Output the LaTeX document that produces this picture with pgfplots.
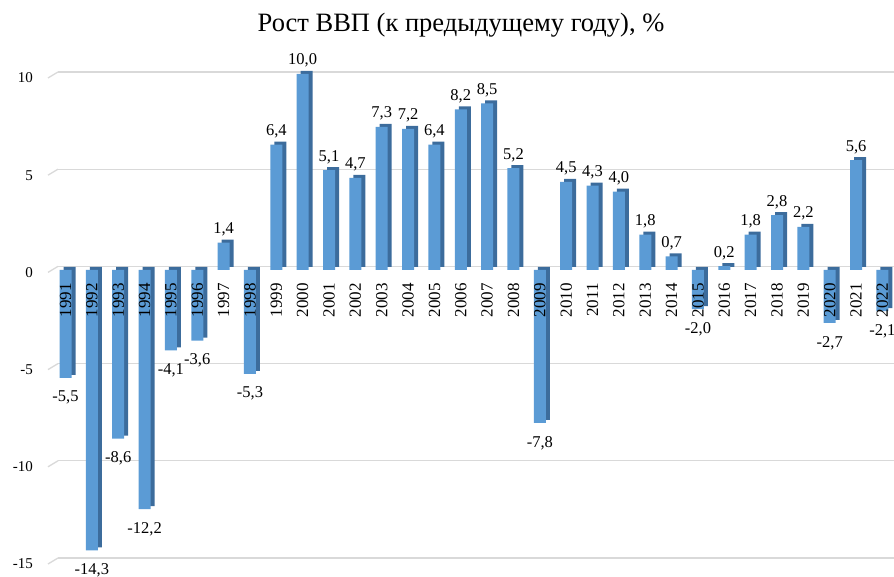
\documentclass[border=0pt]{standalone}
\usepackage{pgfplots}
\usepackage{pgfplotstable}
\pgfplotsset{compat=1.18}
\usepackage{fontspec}
\setmainfont{Liberation Serif}
\definecolor{barfront}{HTML}{5B9BD5}
\definecolor{barside}{HTML}{3C6C9C}
\definecolor{gridc}{HTML}{D9D9D9}

\pgfplotstableread{
x y year
0 -5.5 1991
1 -14.3 1992
2 -8.6 1993
3 -12.2 1994
4 -4.1 1995
5 -3.6 1996
6 1.4 1997
7 -5.3 1998
8 6.4 1999
9 10.0 2000
10 5.1 2001
11 4.7 2002
12 7.3 2003
13 7.2 2004
14 6.4 2005
15 8.2 2006
16 8.5 2007
17 5.2 2008
18 -7.8 2009
19 4.5 2010
20 4.3 2011
21 4.0 2012
22 1.8 2013
23 0.7 2014
24 -2.0 2015
25 0.2 2016
26 1.8 2017
27 2.8 2018
28 2.2 2019
29 -2.7 2020
30 5.6 2021
31 -2.1 2022
}\gdp

\begin{document}
\begin{tikzpicture}
% grid (back wall)
\begin{axis}[
  at={(58pt,19pt)}, anchor=south west,
  scale only axis, width=836pt, height=486pt,
  xmin=0, xmax=1, ymin=-15, ymax=10,
  ytick={-15,-10,-5,0,5,10}, xtick=\empty,
  ymajorgrids, major grid style={gridc, line width=1.3pt},
  axis line style={draw=none}, major tick length=0pt,
  /pgf/number format/assume math mode=true,
  yticklabel style={font=\fontsize{15}{18}\selectfont, inner sep=0pt, anchor=east, xshift=-25pt, yshift=-6pt},
  clip=false]
\pgfplotsinvokeforeach{-15,-10,-5,0,5,10}{\draw[gridc, line width=1.3pt] (axis cs:0,#1) -- ++(-10pt,-6pt);}
\end{axis}
% bars
\begin{axis}[
  at={(58pt,19pt)}, anchor=south west,
  scale only axis, width=836pt, height=486pt,
  xmin=-0.285, xmax=31.44, ymin=-14.694, ymax=10.102,
  hide axis, clip=false, bar width=12pt]
\addplot[ybar, bar shift=4pt, yshift=3pt, fill=barside, draw=none] table[x=x,y=y]{\gdp};
\addplot[ybar, bar shift=0pt, fill=barfront, draw=none] table[x=x,y=y]{\gdp};
% positive value labels
\addplot[draw=none, mark=none, restrict y to domain=0:20,
  nodes near coords,
  every node near coord/.append style={anchor=base, inner sep=0pt, yshift=9pt, font=\fontsize{16.5}{19}\selectfont},
  /pgf/number format/fixed, /pgf/number format/fixed zerofill, /pgf/number format/precision=1,
  /pgf/number format/use comma, /pgf/number format/assume math mode=true]
  table[x=x,y=y]{\gdp};
% negative value labels
\addplot[draw=none, mark=none, restrict y to domain=-20:0,
  nodes near coords,
  every node near coord/.append style={anchor=north, inner sep=0pt, yshift=-13pt, font=\fontsize{16.5}{19}\selectfont},
  /pgf/number format/fixed, /pgf/number format/fixed zerofill, /pgf/number format/precision=1,
  /pgf/number format/use comma, /pgf/number format/assume math mode=true]
  table[x=x,y=y]{\gdp};
% year labels
\addplot[draw=none, mark=none, nodes near coords, point meta=explicit symbolic,
  every node near coord/.append style={yshift=-13pt, rotate=90, anchor=east, inner sep=0pt, font=\fontsize{17}{20}\selectfont}]
  table[x=x, y expr=0, meta=year]{\gdp};
\end{axis}
\node[anchor=base, font=\fontsize{26.5}{30}\selectfont] at (461pt,545pt) {Рост ВВП (к предыдущему году), \%};
\pgfresetboundingbox
\path[use as bounding box] (0,0) rectangle (894pt,577pt);
\end{tikzpicture}
\end{document}
